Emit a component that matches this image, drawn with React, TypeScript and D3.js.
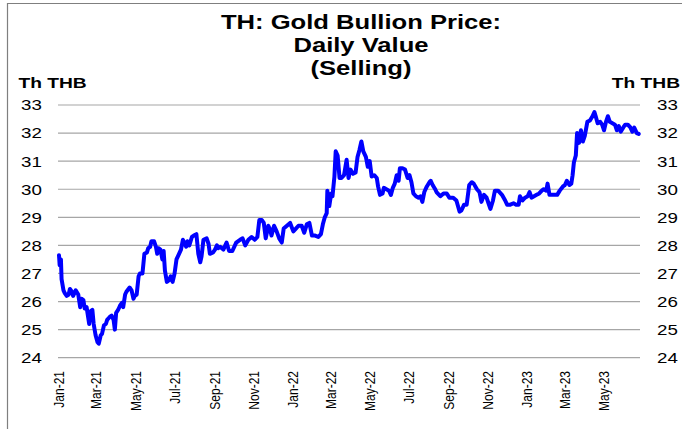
import * as d3 from "d3";

// Gold bullion selling price, Th THB. Days counted from the first trading day.
const startDate = "2021-01-04";
const endDate = "2023-06-28";

const days = [
  0, 1, 3, 4, 7, 9, 12, 15, 17, 20, 22, 26, 30, 33, 35, 38, 40, 43, 46, 47, 49, 52, 54, 57, 60, 62, 65, 67,
  70, 73, 75, 79, 82, 85, 87, 89, 92, 95, 98, 100, 103, 105, 110, 113, 116, 118, 121, 124, 126, 130, 133,
  137, 139, 142, 144, 148, 151, 153, 155, 158, 161, 163, 165, 168, 171, 174, 177, 180, 183, 187, 190, 193,
  195, 198, 200, 203, 207, 210, 214, 217, 220, 222, 225, 230, 233, 235, 240, 243, 246, 248, 251, 256, 261,
  265, 270, 276, 282, 286, 290, 295, 300, 305, 309, 312, 316, 319, 322, 326, 329, 331, 335, 339, 343, 347,
  350, 355, 360, 365, 369, 373, 378, 382, 386, 390, 394, 399, 404, 408, 411, 414, 417, 418, 421, 424, 426,
  429, 431, 434, 437, 440, 444, 448, 451, 454, 458, 462, 465, 468, 471, 474, 478, 481, 484, 487, 491, 495,
  497, 500, 504, 506, 510, 514, 517, 520, 523, 526, 529, 531, 535, 539, 543, 546, 549, 552, 556, 560, 563,
  566, 569, 573, 577, 579, 582, 586, 588, 594, 599, 604, 608, 614, 619, 624, 627, 631, 635, 639, 643, 646,
  651, 655, 658, 662, 666, 669, 672, 676, 679, 684, 690, 695, 698, 703, 708, 712, 716, 718, 722, 726, 730,
  733, 736, 740, 744, 748, 752, 755, 759, 761, 764, 767, 773, 776, 780, 785, 788, 791, 795, 798, 800, 802,
  805, 807, 810, 813, 816, 819, 823, 827, 831, 834, 836, 839, 843, 846, 849, 852, 855, 858, 862, 866, 869,
  872, 875, 879, 882, 886, 890, 893, 896, 900, 903,
];

const prices = [
  27.65, 27.3, 27.5, 26.8, 26.4, 26.3, 26.2, 26.25, 26.45, 26.35, 26.2, 26.4, 26.25, 25.8, 26.1, 26.05,
  25.75, 25.8, 25.35, 25.2, 25.65, 25.7, 25.2, 24.8, 24.55, 24.5, 24.8, 24.85, 25.15, 25.2, 25.35, 25.45,
  25.5, 25.35, 25.0, 25.6, 25.7, 25.85, 25.95, 25.8, 26.25, 26.35, 26.5, 26.4, 26.1, 26.2, 26.25, 26.9,
  27.0, 27.0, 27.7, 27.75, 27.9, 27.95, 28.15, 28.15, 27.95, 27.7, 27.9, 27.85, 27.5, 27.8, 27.1, 26.7,
  26.75, 26.9, 26.7, 27.0, 27.5, 27.7, 27.85, 28.2, 28.1, 27.95, 28.15, 28.0, 28.3, 28.35, 28.4, 27.7,
  27.4, 27.6, 28.2, 28.25, 28.05, 27.7, 27.75, 27.85, 28.0, 27.9, 27.95, 27.85, 28.1, 27.8, 27.8, 28.1,
  28.2, 28.25, 28.0, 28.2, 28.3, 28.2, 28.3, 28.9, 28.9, 28.8, 28.25, 28.7, 28.55, 28.35, 28.7, 28.5,
  28.25, 28.1, 28.6, 28.7, 28.8, 28.5, 28.6, 28.7, 28.7, 28.45, 28.75, 28.8, 28.35, 28.35, 28.3, 28.4,
  28.75, 29.0, 29.15, 29.95, 29.4, 29.85, 29.75, 30.45, 31.35, 31.2, 30.4, 30.4, 30.5, 31.05, 30.4, 30.7,
  30.55, 30.6, 31.15, 31.4, 31.7, 31.35, 31.15, 30.8, 31.0, 30.45, 30.5, 30.4, 30.1, 29.8, 29.85, 30.05,
  30.0, 29.95, 29.8, 30.05, 30.2, 30.5, 30.3, 30.75, 30.75, 30.7, 30.4, 30.5, 30.25, 29.85, 29.75, 29.7,
  29.75, 29.55, 29.9, 30.1, 30.25, 30.3, 30.15, 30.0, 29.9, 29.75, 29.85, 29.85, 29.7, 29.7, 29.6, 29.2,
  29.25, 29.45, 29.45, 30.15, 30.25, 30.2, 30.0, 29.9, 29.55, 29.8, 29.7, 29.5, 29.3, 29.6, 29.95, 29.95,
  29.8, 29.6, 29.45, 29.45, 29.5, 29.45, 29.45, 29.75, 29.6, 29.7, 29.75, 29.9, 29.7, 29.75, 29.8, 29.85,
  29.95, 30.0, 29.95, 30.2, 29.8, 29.8, 29.8, 29.8, 29.95, 30.1, 30.15, 30.3, 30.15, 30.2, 30.5, 30.95,
  31.2, 32.0, 31.65, 32.1, 31.7, 31.9, 32.4, 32.45, 32.6, 32.75, 32.6, 32.35, 32.4, 32.3, 32.1, 32.4,
  32.6, 32.4, 32.35, 32.3, 32.1, 32.25, 32.05, 32.2, 32.3, 32.3, 32.2, 32.05, 32.2, 32.0, 31.97,
];

const yTicks = [24, 25, 26, 27, 28, 29, 30, 31, 32, 33];
const monthTicks = [
  "2021-01-01", "2021-03-01", "2021-05-01", "2021-07-01", "2021-09-01", "2021-11-01", "2022-01-01",
  "2022-03-01", "2022-05-01", "2022-07-01", "2022-09-01", "2022-11-01", "2023-01-01", "2023-03-01",
  "2023-05-01",
];
const titleLines = ["TH: Gold Bullion Price:", "Daily Value", "(Selling)"];
const unitLabel = "Th THB";

const W = 682;
const H = 429;
const left = 59;
const right = 640;
const top = 105;
const bottom = 357.7;
const font = "Arial, 'Liberation Sans', Helvetica, sans-serif";

export default function App() {
  const parse = d3.timeParse("%Y-%m-%d");
  const t0 = parse(startDate)!;
  const data = days.map((d, i) => ({ date: d3.timeDay.offset(t0, d), value: prices[i] }));

  const x = d3.scaleTime().domain([t0, parse(endDate)!]).range([left, right]);
  const y = d3.scaleLinear().domain([24, 33]).range([bottom, top]);

  const line = d3
    .line<{ date: Date; value: number }>()
    .x((d) => x(d.date))
    .y((d) => y(d.value));

  const fmt = d3.timeFormat("%b-%y");

  return (
    <svg
      width={W}
      height={H}
      style={{ position: "absolute", left: 0, top: 0, background: "#fff" }}
      fontFamily={font}
    >
      {/* frame */}
      <line x1={7.5} x2={7.5} y1={3} y2={H} stroke="#7f7f7f" strokeWidth={1.2} />
      <line x1={7.5} x2={W} y1={3.5} y2={3.5} stroke="#7f7f7f" strokeWidth={1.2} />

      {/* title */}
      {titleLines.map((t, i) => (
        <g key={t} transform={`translate(361,${28.5 + i * 23}) scale(1.22,1)`}>
          <text textAnchor="middle" fontSize={21} fontWeight="bold" fill="#000">
            {t}
          </text>
        </g>
      ))}

      {/* unit labels */}
      <g transform="translate(18.5,88) scale(1.28,1)">
        <text fontSize={15} fontWeight="bold">{unitLabel}</text>
      </g>
      <g transform="translate(680,87.5) scale(1.28,1)">
        <text fontSize={15} fontWeight="bold" textAnchor="end">{unitLabel}</text>
      </g>

      {/* grid + y labels */}
      {yTicks.map((v) => (
        <g key={v}>
          <line x1={58} x2={right} y1={y(v)} y2={y(v)} stroke="#a6a6a6" strokeWidth={1.2} />
          <g transform={`translate(21,${y(v)}) scale(1.25,1)`}>
            <text fontSize={15} dy="0.36em" fill="#000">{v}</text>
          </g>
          <g transform={`translate(657,${y(v)}) scale(1.25,1)`}>
            <text fontSize={15} dy="0.36em" fill="#000">{v}</text>
          </g>
        </g>
      ))}

      {/* x labels */}
      {monthTicks.map((s) => {
        const d = parse(s)!;
        return (
          <g key={s} transform={`translate(${x(d) + 1.5},371) scale(1.2,1) rotate(-90)`}>
            <text fontSize={12} textAnchor="end" dy="0.35em" fill="#000">
              {fmt(d)}
            </text>
          </g>
        );
      })}

      {/* series */}
      <path
        d={line(data) ?? ""}
        fill="none"
        stroke="#0000ff"
        strokeWidth={4}
        strokeLinejoin="round"
        strokeLinecap="round"
      />
    </svg>
  );
}
